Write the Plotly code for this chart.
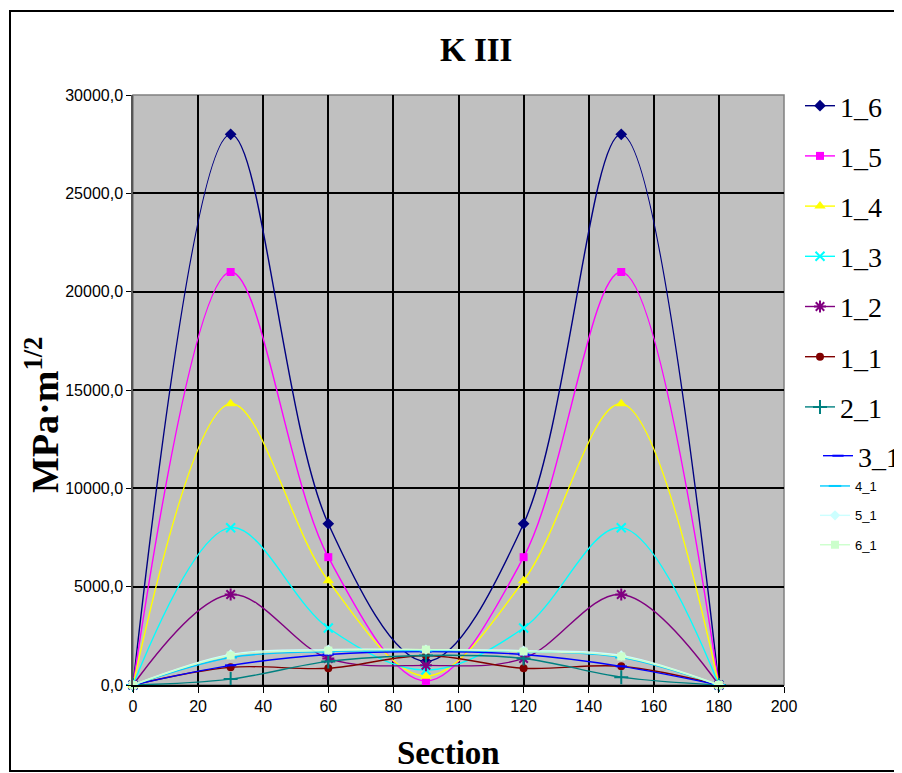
import plotly.graph_objects as go

# ---- data ----
section = [0, 30, 60, 90, 120, 150, 180]
k_1_6 = [0, 28000, 8200, 1200, 8200, 28000, 0]
k_1_5 = [0, 21000, 6500, 200, 6500, 21000, 0]
k_1_4 = [0, 14300, 5300, 450, 5300, 14300, 0]
k_1_3 = [0, 8000, 2900, 760, 2900, 8000, 0]
k_1_2 = [0, 4600, 1350, 1000, 1350, 4600, 0]
k_1_1 = [0, 900, 850, 1500, 850, 950, 0]
k_2_1 = [0, 300, 1200, 1500, 1350, 400, 0]
k_3_1 = [0, 1000, 1550, 1700, 1550, 950, 0]
k_4_1 = [0, 1400, 1700, 1750, 1700, 1400, 0]
k_5_1 = [0, 1550, 1800, 1800, 1750, 1500, 0]
k_6_1 = [0, 1500, 1750, 1800, 1700, 1450, 0]

series_names = ["1_6", "1_5", "1_4", "1_3", "1_2", "1_1", "2_1", "3_1", "4_1", "5_1", "6_1"]
series_vals = [k_1_6, k_1_5, k_1_4, k_1_3, k_1_2, k_1_1, k_2_1, k_3_1, k_4_1, k_5_1, k_6_1]
colors = ["#000080", "#FF00FF", "#FFFF00", "#00FFFF", "#800080", "#800000",
          "#008080", "#0000FF", "#00CCFF", "#CCFFFF", "#CCFFCC"]
symbols = ["diamond", "square", "triangle-up", "x-thin", "asterisk", "circle",
           "cross-thin", "line-ew", "line-ew", "diamond", "square"]
sizes = [9, 8, 10, 9, 10, 8, 10, 8, 9, 8, 8]
legends = ["legend"] * 7 + ["legend2"] + ["legend3"] * 3

fig = go.Figure()
for name, vals, col, sym, sz, lg in zip(series_names, series_vals, colors, symbols, sizes, legends):
    thin = sym in ("x-thin", "asterisk", "cross-thin", "line-ew")
    fig.add_trace(go.Scatter(
        x=section, y=vals, name=name,
        mode="lines+markers",
        line=dict(color=col, width=1.4, shape="spline", smoothing=1.0),
        marker=dict(symbol=sym, size=sz, color=col,
                    line=dict(color=col, width=2 if thin else 0)),
        legend=lg, legendgroup=name, cliponaxis=False,
    ))

# page-pixel -> paper coordinates (plot area spans page x 133..784, y 95..685)
def px_x(p):
    return (p - 133) / 651.0

def px_y(p):
    return (685 - p) / 590.0

fig.update_layout(
    width=902, height=773,
    # the page body adds an 8px offset, so margins are reduced by 8 on the top/left
    margin=dict(l=125, r=126, t=87, b=96, autoexpand=False),
    paper_bgcolor="white", plot_bgcolor="#C0C0C0",
    separators=", ",
    showlegend=True,
    xaxis=dict(range=[0, 200], dtick=20, tick0=0, showgrid=True, gridcolor="#000000", gridwidth=1.5,
               ticks="outside", ticklen=6, tickcolor="#000000", tickwidth=1.2,
               showline=True, linecolor="#000000", linewidth=1.5,
               tickfont=dict(family="Liberation Sans", size=16, color="black"),
               zeroline=False, fixedrange=True),
    yaxis=dict(range=[0, 30000], dtick=5000, tick0=0, tickformat=".1f", showgrid=True,
               gridcolor="#000000", gridwidth=1.5,
               ticks="outside", ticklen=5, tickcolor="#000000", tickwidth=1.2,
               showline=True, linecolor="#555555", linewidth=1.5,
               tickfont=dict(family="Liberation Sans", size=16, color="black"),
               zeroline=False, fixedrange=True),
    legend=dict(x=px_x(800), xanchor="left", y=px_y(81), yanchor="top",
                font=dict(family="Liberation Serif", size=28, color="black"),
                bgcolor="rgba(0,0,0,0)", tracegroupgap=10.8, traceorder="grouped"),
    legend2=dict(x=px_x(818), xanchor="left", y=px_y(431), yanchor="top",
                 font=dict(family="Liberation Serif", size=28, color="black"),
                 bgcolor="rgba(0,0,0,0)"),
    legend3=dict(x=px_x(815), xanchor="left", y=px_y(471), yanchor="top",
                 font=dict(family="Liberation Sans", size=13, color="black"),
                 bgcolor="rgba(0,0,0,0)", tracegroupgap=9.5, traceorder="grouped"),
    annotations=[
        dict(text="<b>K III</b>", xref="paper", yref="paper", x=px_x(476), y=px_y(50),
             xanchor="center", yanchor="middle", showarrow=False,
             font=dict(family="Liberation Serif", size=33, color="black")),
        dict(text="<b>Section</b>", xref="paper", yref="paper", x=px_x(448), y=px_y(753),
             xanchor="center", yanchor="middle", showarrow=False,
             font=dict(family="Liberation Serif", size=33, color="black")),
        dict(text="<b>MPa·m<sup>1/2</sup></b>", xref="paper", yref="paper", x=px_x(42), y=px_y(415),
             xanchor="center", yanchor="middle", showarrow=False, textangle=-90,
             font=dict(family="Liberation Serif", size=38, color="black")),
    ],
    shapes=[
        dict(type="rect", xref="paper", yref="paper", x0=0, x1=1, y0=0, y1=1,
             line=dict(color="#808080", width=1.5), layer="below"),
        dict(type="rect", xref="paper", yref="paper", x0=px_x(10), x1=px_x(920), y0=px_y(771), y1=px_y(11),
             line=dict(color="#000000", width=2)),
    ],
)

fig.write_html("out.html")
